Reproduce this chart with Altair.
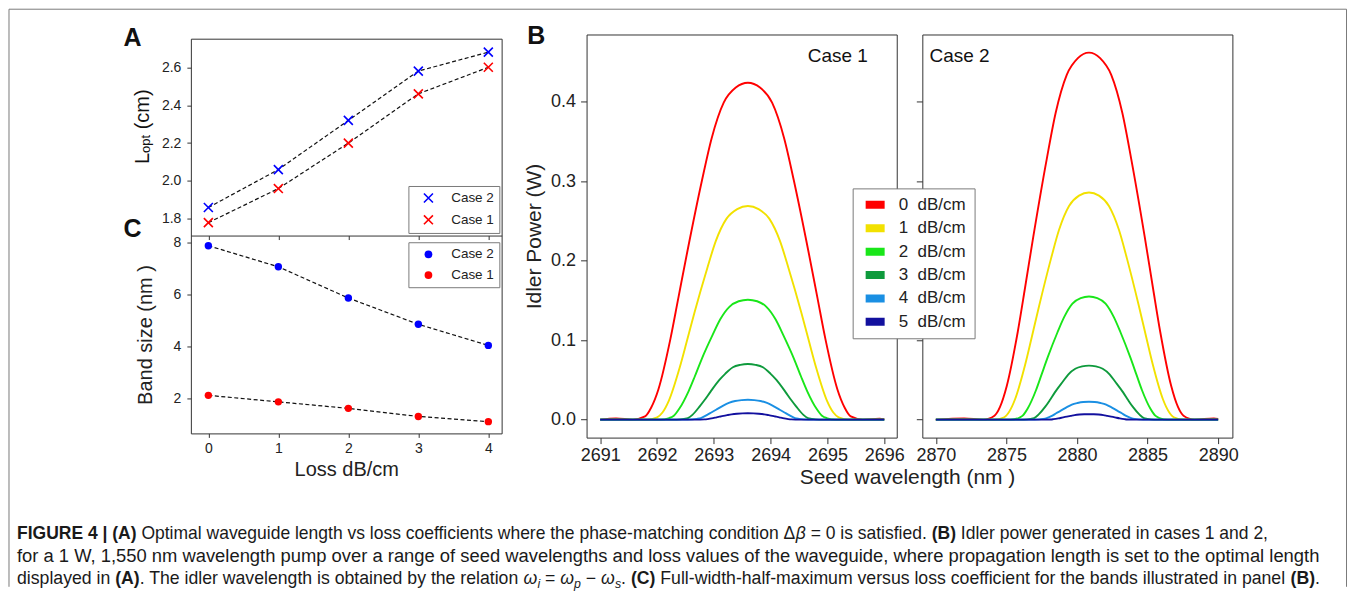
import altair as alt
import pandas as pd

FONT = "Liberation Sans"
INK = "#222222"
EDGE = "#333333"
BOX = "#7a7a7a"

# ---------------- Panel A / C data ----------------
loss_values = [0, 1, 2, 3, 4]
lopt_case2 = [1.86, 2.06, 2.32, 2.58, 2.68]
lopt_case1 = [1.78, 1.96, 2.20, 2.46, 2.60]
band_case2 = [7.88, 7.07, 5.87, 4.86, 4.05]
band_case1 = [2.13, 1.88, 1.63, 1.32, 1.12]
case_names = ["Case 2", "Case 1"]
case_colors = ["#0000ff", "#ff0000"]

# ---------------- Panel B data ----------------
loss_names = ["0\u00a0\u00a0dB/cm", "1\u00a0\u00a0dB/cm", "2\u00a0\u00a0dB/cm",
              "3\u00a0\u00a0dB/cm", "4\u00a0\u00a0dB/cm", "5\u00a0\u00a0dB/cm"]
loss_colors = ["#ff0000", "#f2e100", "#19e619", "#0e9a3c", "#1a8fe3", "#12109e"]

# Case 1 (seed wavelength nm, idler power W)
c1_l0_wl = [2691.0, 2691.28, 2691.576, 2691.789, 2691.896, 2692.024, 2692.237, 2692.375, 2692.535, 2692.791, 2692.961, 2693.174, 2693.387, 2693.6,
            2693.813, 2694.026, 2694.239, 2694.409, 2694.665, 2694.825, 2694.963, 2695.176, 2695.304, 2695.411, 2695.624, 2695.92, 2696.0]
c1_l0_p = [0, 0.0015, 0, 0.004, 0.015, 0.038, 0.102, 0.153, 0.212, 0.301, 0.354, 0.399, 0.418, 0.424,
           0.418, 0.399, 0.354, 0.301, 0.212, 0.153, 0.102, 0.038, 0.015, 0.004, 0, 0.0012, 0.0005]
c1_l1_wl = [2691.0, 2691.814, 2692.002, 2692.096, 2692.209, 2692.397, 2692.519, 2692.66, 2692.886, 2693.036, 2693.224, 2693.412, 2693.6,
            2693.788, 2693.976, 2694.164, 2694.314, 2694.54, 2694.681, 2694.803, 2694.991, 2695.104, 2695.198, 2695.386, 2696.0]
c1_l1_p = [0, 0, 0.003, 0.009, 0.024, 0.065, 0.097, 0.135, 0.191, 0.225, 0.253, 0.265, 0.269,
           0.265, 0.253, 0.225, 0.191, 0.135, 0.097, 0.065, 0.024, 0.009, 0.003, 0, 0]
c1_l2_wl = [2691.0, 2692.051, 2692.214, 2692.296, 2692.394, 2692.557, 2692.663, 2692.785, 2692.981, 2693.111, 2693.274, 2693.437, 2693.6,
            2693.763, 2693.926, 2694.089, 2694.219, 2694.415, 2694.537, 2694.643, 2694.806, 2694.904, 2694.986, 2695.149, 2696.0]
c1_l2_p = [0, 0, 0.002, 0.005, 0.014, 0.036, 0.054, 0.076, 0.107, 0.126, 0.142, 0.149, 0.151,
           0.149, 0.142, 0.126, 0.107, 0.076, 0.054, 0.036, 0.014, 0.005, 0.002, 0, 0]
c1_l3_wl = [2691.0, 2692.346, 2692.478, 2692.544, 2692.623, 2692.755, 2692.841, 2692.94, 2693.098, 2693.204, 2693.336, 2693.468, 2693.6,
            2693.732, 2693.864, 2693.996, 2694.102, 2694.26, 2694.359, 2694.445, 2694.577, 2694.656, 2694.722, 2694.854, 2696.0]
c1_l3_p = [0, 0, 0.001, 0.002, 0.006, 0.017, 0.025, 0.035, 0.050, 0.058, 0.066, 0.069, 0.070,
           0.069, 0.066, 0.058, 0.050, 0.035, 0.025, 0.017, 0.006, 0.002, 0.001, 0, 0]
c1_l4_wl = [2691.0, 2692.536, 2692.704, 2692.771, 2692.883, 2692.956, 2693.04, 2693.174, 2693.264, 2693.376, 2693.488, 2693.6,
            2693.712, 2693.824, 2693.936, 2694.026, 2694.16, 2694.244, 2694.317, 2694.429, 2694.496, 2694.664, 2696.0]
c1_l4_p = [0, 0, 0.001, 0.002, 0.006, 0.009, 0.0125, 0.018, 0.021, 0.0235, 0.0246, 0.025,
           0.0246, 0.0235, 0.021, 0.018, 0.0125, 0.009, 0.006, 0.002, 0.001, 0, 0]
c1_l5_wl = [2691.0, 2692.688, 2692.832, 2692.89, 2692.986, 2693.048, 2693.12, 2693.235, 2693.312, 2693.408, 2693.504, 2693.6,
            2693.696, 2693.792, 2693.888, 2693.965, 2694.08, 2694.152, 2694.214, 2694.31, 2694.368, 2694.512, 2696.0]
c1_l5_p = [0, 0, 0.0003, 0.0007, 0.0019, 0.0029, 0.004, 0.0057, 0.0067, 0.0075, 0.0079, 0.008,
           0.0079, 0.0075, 0.0067, 0.0057, 0.004, 0.0029, 0.0019, 0.0007, 0.0003, 0, 0]

# Case 2
c2_l0_wl = [2870.0, 2872.0, 2873.364, 2874.152, 2874.546, 2875.019, 2875.807, 2876.319, 2876.91, 2877.856, 2878.486, 2879.274, 2880.062, 2880.85,
            2881.638, 2882.426, 2883.214, 2883.844, 2884.79, 2885.381, 2885.893, 2886.681, 2887.154, 2887.548, 2888.336, 2889.7, 2890.0]
c2_l0_p = [0, 0.0015, 0, 0.005, 0.016, 0.042, 0.111, 0.166, 0.231, 0.328, 0.386, 0.434, 0.455, 0.462,
           0.455, 0.434, 0.386, 0.328, 0.231, 0.166, 0.111, 0.042, 0.016, 0.005, 0, 0.0015, 0.0008]
c2_l1_wl = [2870.0, 2874.133, 2874.84, 2875.194, 2875.618, 2876.325, 2876.785, 2877.315, 2878.163, 2878.729, 2879.436, 2880.143, 2880.85,
            2881.557, 2882.264, 2882.971, 2883.537, 2884.385, 2884.915, 2885.375, 2886.082, 2886.506, 2886.86, 2887.567, 2890.0]
c2_l1_p = [0, 0, 0.003, 0.010, 0.026, 0.069, 0.103, 0.143, 0.203, 0.239, 0.269, 0.282, 0.286,
           0.282, 0.269, 0.239, 0.203, 0.143, 0.103, 0.069, 0.026, 0.010, 0.003, 0, 0]
c2_l2_wl = [2870.0, 2875.273, 2875.86, 2876.154, 2876.506, 2877.093, 2877.475, 2877.915, 2878.619, 2879.089, 2879.676, 2880.263, 2880.85,
            2881.437, 2882.024, 2882.611, 2883.081, 2883.785, 2884.225, 2884.607, 2885.194, 2885.546, 2885.84, 2886.427, 2890.0]
c2_l2_p = [0, 0, 0.002, 0.005, 0.014, 0.037, 0.056, 0.078, 0.110, 0.129, 0.146, 0.153, 0.155,
           0.153, 0.146, 0.129, 0.110, 0.078, 0.056, 0.037, 0.014, 0.005, 0.002, 0, 0]
c2_l3_wl = [2870.0, 2876.233, 2876.719, 2876.962, 2877.254, 2877.74, 2878.055, 2878.42, 2879.003, 2879.392, 2879.878, 2880.364, 2880.85,
            2881.336, 2881.822, 2882.308, 2882.697, 2883.28, 2883.645, 2883.96, 2884.446, 2884.738, 2884.981, 2885.467, 2890.0]
c2_l3_p = [0, 0, 0.001, 0.002, 0.006, 0.016, 0.024, 0.034, 0.048, 0.057, 0.064, 0.067, 0.068,
           0.067, 0.064, 0.057, 0.048, 0.034, 0.024, 0.016, 0.006, 0.002, 0.001, 0, 0]
c2_l4_wl = [2870.0, 2877.002, 2877.61, 2877.853, 2878.258, 2878.521, 2878.825, 2879.311, 2879.635, 2880.04, 2880.445, 2880.85,
            2881.255, 2881.66, 2882.065, 2882.389, 2882.875, 2883.179, 2883.442, 2883.847, 2884.09, 2884.698, 2890.0]
c2_l4_p = [0, 0, 0.001, 0.002, 0.005, 0.008, 0.011, 0.016, 0.019, 0.021, 0.0222, 0.0225,
           0.0222, 0.021, 0.019, 0.016, 0.011, 0.008, 0.005, 0.002, 0.001, 0, 0]
c2_l5_wl = [2870.0, 2877.62, 2878.13, 2878.334, 2878.674, 2878.895, 2879.15, 2879.558, 2879.83, 2880.17, 2880.51, 2880.85,
            2881.19, 2881.53, 2881.87, 2882.142, 2882.55, 2882.805, 2883.026, 2883.366, 2883.57, 2884.08, 2890.0]
c2_l5_p = [0, 0, 0.0002, 0.0006, 0.0016, 0.0024, 0.0034, 0.0048, 0.0057, 0.0064, 0.0067, 0.0068,
           0.0067, 0.0064, 0.0057, 0.0048, 0.0034, 0.0024, 0.0016, 0.0006, 0.0002, 0, 0]

# ---------------- Caption text ----------------
caption_lines = [
    [("FIGURE 4 | ", "b"), ("(A)", "b"),
     (" Optimal waveguide length vs loss coefficients where the phase-matching condition \u0394", "n"),
     ("\u03b2", "i"), (" = 0 is satisfied. ", "n"), ("(B)", "b"),
     (" Idler power generated in cases 1 and 2,", "n")],
    [("for a 1 W, 1,550 nm wavelength pump over a range of seed wavelengths and loss values of the waveguide, "
      "where propagation length is set to the optimal length", "n")],
    [("displayed in ", "n"), ("(A)", "b"), (". The idler wavelength is obtained by the relation ", "n"),
     ("\u03c9", "i"), ("i", "si"), (" = ", "n"), ("\u03c9", "i"), ("p", "si"), (" \u2212 ", "n"),
     ("\u03c9", "i"), ("s", "si"), (". ", "n"), ("(C)", "b"),
     (" Full-width-half-maximum versus loss coefficient for the bands illustrated in panel ", "n"),
     ("(B)", "b"), (".", "n")],
]

# ---------------- text metrics (Arial / Liberation Sans advance widths) ----------------
_W = {}
for chars, w in [(" !,./:;I[]\\ft\u00a0", 278), ("ijl", 222), ("\"", 355),
                 ("#$0123456789?_abdeghnopqu", 556), ("%", 889), ("&ABEKPSVXY", 667),
                 ("'", 191), ("()-`r", 333), ("*", 389), ("+<=>~\u2212", 584), ("@", 1015),
                 ("CDHNRUw", 722), ("FTZ", 611), ("GOQ", 778), ("J", 500), ("L", 556),
                 ("Mm", 833), ("W", 944), ("^", 469), ("cksvxyz", 500), ("|", 260),
                 ("\u0394", 668), ("\u03b2", 575), ("\u03c9", 781)]:
    for ch in chars:
        _W[ch] = w
_WB = dict(_W)
_WB.update({"A": 722, "B": 722, "C": 722, "E": 667, "F": 611, "G": 778, "I": 278,
            "R": 722, "U": 722, "|": 280, "4": 556})


def em(text, bold=False):
    table = _WB if bold else _W
    return sum(table.get(ch, 556) for ch in text) / 1000.0


# layout anchors (pixels, relative to the A/C plot origin)
AC_W, A_H, AC_H = 311, 197, 395
B_W1, B_W2, B_H = 310.4, 310.3, 403.4
cap_x0 = -174.0
cap_widths = [1252.0, 1306.0, 1304.0]
cap_base = [501.0, 523.5, 546.0]

rows = []
for li, segs in enumerate(caption_lines):
    line_em = sum(em(t, s == "b") * (0.7 if s == "si" else 1.0) for t, s in segs)
    fs = cap_widths[li] / line_em
    x = cap_x0
    for txt, sty in segs:
        size = fs * (0.7 if sty == "si" else 1.0)
        lead = len(txt) - len(txt.lstrip(" "))
        body = txt.strip(" ")
        if body:
            rows.append({"t": body, "x": x + lead * 0.278 * size, "y": cap_base[li], "sty": sty, "fs": size})
        x += em(txt, sty == "b") * size
cap_df = pd.DataFrame(rows)


def cap_layer(sty, **kw):
    return alt.Chart(cap_df[cap_df.sty == sty]).mark_text(
        align="left", baseline="alphabetic", font=FONT, color="#1a1a1a", **kw
    ).encode(x=alt.X("x:Q", scale=None, axis=None), y=alt.Y("y:Q", scale=None, axis=None),
             size=alt.Size("fs:Q", scale=None, legend=None), text="t:N")


caption = alt.layer(
    cap_layer("n"),
    cap_layer("b", fontWeight="bold"),
    cap_layer("i", fontStyle="italic"),
    cap_layer("si", fontStyle="italic", dy=4),
)

one = pd.DataFrame({"k": [0]})
FR_L, FR_R, FR_T, FR_B = -182.0, 1156.5, -29.5, 548.5
frame = alt.layer(
    alt.Chart(one).mark_rule(color=BOX, strokeWidth=1).encode(
        x=alt.value(FR_L), x2=alt.value(FR_R), y=alt.value(FR_T)),
    alt.Chart(one).mark_rule(color=BOX, strokeWidth=1).encode(
        x=alt.value(FR_L), y=alt.value(FR_T), y2=alt.value(FR_B)),
    alt.Chart(one).mark_rule(color=BOX, strokeWidth=1).encode(
        x=alt.value(FR_R), y=alt.value(FR_T), y2=alt.value(FR_B)),
)


def label(text, x, y, size, **kw):
    return alt.Chart(one).mark_text(text=text, font=FONT, fontSize=size, color="#111", **kw).encode(
        x=alt.value(x), y=alt.value(y))


XPATH = "M-1,-1L1,1M-1,1L1,-1"

# ---------------- Panel A ----------------
dfA = pd.DataFrame({"loss": loss_values * 2, "L": lopt_case2 + lopt_case1,
                    "caseA": ["Case 2"] * 5 + ["Case 1"] * 5})
xA = alt.X("loss:Q", scale=alt.Scale(domain=[-0.25, 4.19], nice=False, zero=False),
           axis=alt.Axis(orient="bottom", offset=-(AC_H - A_H), values=loss_values, labels=False,
                         title=None, tickSize=4, domain=True, domainColor=EDGE, tickColor=EDGE))
yA = alt.Y("L:Q", scale=alt.Scale(domain=[1.712, 2.751], range=[A_H, 0], nice=False, zero=False),
           axis=alt.Axis(orient="left", values=[1.8, 2.0, 2.2, 2.4, 2.6], format=".1f", title=None,
                         tickSize=4, labelPadding=6, labelFontSize=14))
A_line = alt.Chart(dfA).mark_line(color="#111", strokeDash=[4, 2.5], strokeWidth=1.2).encode(
    x=xA, y=yA, detail="caseA:N")
A_pts = alt.Chart(dfA).mark_point(shape=XPATH, filled=False, size=81, strokeWidth=1.6, opacity=1).encode(
    x=xA, y=yA,
    color=alt.Color("caseA:N", scale=alt.Scale(domain=case_names, range=case_colors),
                    legend=alt.Legend(orient="none", legendX=217.7, legendY=147.4, title=None,
                                      padding=5.3, strokeColor=BOX, fillColor="white",
                                      symbolType=XPATH, symbolSize=81, symbolStrokeWidth=1.6,
                                      symbolOffset=8, labelOffset=16, rowPadding=5.8,
                                      labelFontSize=13.5, labelFont=FONT, labelColor=INK)))
A_layer = alt.layer(A_line, A_pts)

# ---------------- Panel C ----------------
dfC = pd.DataFrame({"loss": loss_values * 2, "band": band_case2 + band_case1,
                    "caseC": ["Case 2"] * 5 + ["Case 1"] * 5})
xC = alt.X("loss:Q", scale=alt.Scale(domain=[-0.25, 4.19], nice=False, zero=False),
           axis=alt.Axis(orient="bottom", values=loss_values, format="d", title="Loss dB/cm",
                         tickSize=4, labelPadding=4, labelFontSize=14, titleFontSize=20,
                         titleY=35.7, titleBaseline="middle"))
yC = alt.Y("band:Q", scale=alt.Scale(domain=[0.668, 8.27], range=[AC_H, A_H], nice=False, zero=False),
           axis=alt.Axis(orient="left", values=[2, 4, 6, 8], format="d", title="Band size (nm )",
                         tickSize=4, labelPadding=6, labelFontSize=14, titleFontSize=20,
                         titleX=-45, titleBaseline="middle"))
C_line = alt.Chart(dfC).mark_line(color="#111", strokeDash=[4, 2.5], strokeWidth=1.2).encode(
    x=xC, y=yC, detail="caseC:N")
C_pts = alt.Chart(dfC).mark_point(shape="circle", filled=True, size=55, opacity=1).encode(
    x=xC, y=yC,
    color=alt.Color("caseC:N", scale=alt.Scale(domain=case_names, range=case_colors),
                    legend=alt.Legend(orient="none", legendX=217.7, legendY=203.7, title=None,
                                      padding=5.3, strokeColor=BOX, fillColor="white",
                                      symbolType="circle", symbolSize=60,
                                      symbolOffset=8, labelOffset=16, rowPadding=5.8,
                                      labelFontSize=13.5, labelFont=FONT, labelColor=INK)))
C_layer = alt.layer(C_line, C_pts)

AC = alt.layer(
    frame,
    A_layer,
    C_layer,
    label("A", -58.3, -0.8, 25, fontWeight="bold", align="center", baseline="middle"),
    label("C", -58.3, 190.5, 25, fontWeight="bold", align="center", baseline="middle"),
    label("L", -48.3, 125.5, 20, angle=270, align="left", baseline="middle"),
    label("opt", -44.5, 114.4, 13, angle=270, align="left", baseline="middle"),
    label("(cm)", -48.3, 90.7, 20, angle=270, align="left", baseline="middle"),
    caption,
).resolve_scale(x="independent", y="independent", color="independent").resolve_legend(
    color="independent").properties(width=AC_W, height=AC_H)

# ---------------- Panel B ----------------


def curve_df(pairs):
    out = []
    for name, wl, pw in pairs:
        for w, p in zip(wl, pw):
            out.append({"wl": w, "P": p, "loss": name})
    return pd.DataFrame(out)


dfB1 = curve_df([(loss_names[0], c1_l0_wl, c1_l0_p), (loss_names[1], c1_l1_wl, c1_l1_p),
                 (loss_names[2], c1_l2_wl, c1_l2_p), (loss_names[3], c1_l3_wl, c1_l3_p),
                 (loss_names[4], c1_l4_wl, c1_l4_p), (loss_names[5], c1_l5_wl, c1_l5_p)])
dfB2 = curve_df([(loss_names[0], c2_l0_wl, c2_l0_p), (loss_names[1], c2_l1_wl, c2_l1_p),
                 (loss_names[2], c2_l2_wl, c2_l2_p), (loss_names[3], c2_l3_wl, c2_l3_p),
                 (loss_names[4], c2_l4_wl, c2_l4_p), (loss_names[5], c2_l5_wl, c2_l5_p)])

yB_scale = alt.Scale(domain=[-0.0226, 0.4848], nice=False, zero=False)
power_ticks = [0.0, 0.1, 0.2, 0.3, 0.4]

B1_lines = alt.Chart(dfB1).mark_line(interpolate="monotone", strokeWidth=1.9).encode(
    x=alt.X("wl:Q", scale=alt.Scale(domain=[2690.76, 2696.22], nice=False, zero=False),
            axis=alt.Axis(values=[2691, 2692, 2693, 2694, 2695, 2696], format="d",
                          title="Seed wavelength (nm )", titleX=320.7, titleY=40.3,
                          titleBaseline="middle", titleAlign="center", titleFontSize=21,
                          tickSize=6, labelPadding=3, labelFontSize=18, labelOverlap=False)),
    y=alt.Y("P:Q", scale=yB_scale,
            axis=alt.Axis(values=power_ticks, format=".1f", title="Idler Power (W)", titleX=-52,
                          titleBaseline="middle", titleFontSize=21, tickSize=6, labelPadding=5,
                          labelFontSize=18)),
    color=alt.Color("loss:N", scale=alt.Scale(domain=loss_names, range=loss_colors), legend=None),
)
B1 = alt.layer(
    B1_lines,
    label("Case 1", 251.4, 21.7, 19, align="center", baseline="middle"),
    label("B", -50.3, 1.7, 25, fontWeight="bold", align="center", baseline="middle"),
).properties(width=B_W1, height=B_H)

B2_lines = alt.Chart(dfB2).mark_line(interpolate="monotone", strokeWidth=1.9).encode(
    x=alt.X("wl:Q", scale=alt.Scale(domain=[2869.04, 2891.01], nice=False, zero=False),
            axis=alt.Axis(values=[2870, 2875, 2880, 2885, 2890], format="d", title=None,
                          tickSize=6, labelPadding=3, labelFontSize=18, labelOverlap=False)),
    y=alt.Y("P:Q", scale=yB_scale, axis=alt.Axis(values=power_ticks, labels=False, title=None, tickSize=6)),
    color=alt.Color("loss:N", scale=alt.Scale(domain=loss_names, range=loss_colors),
                    legend=alt.Legend(orient="none", legendX=-69.7, legendY=154, title=None,
                                      padding=8, strokeColor=BOX, fillColor="white",
                                      symbolType="stroke", symbolSize=361, symbolStrokeWidth=8,
                                      symbolOffset=1, labelOffset=10, rowPadding=5.4, clipHeight=17,
                                      labelFontSize=17, labelFont=FONT, labelColor=INK)),
)
B2 = alt.layer(
    B2_lines,
    label("Case 2", 37.3, 21.7, 19, align="center", baseline="middle"),
).properties(width=B_W2, height=B_H)

spacer = alt.Chart(one).mark_point(opacity=0).encode(
    x=alt.value(0), y=alt.value(0)).properties(width=34.3, height=20,
                                                view=alt.ViewBackground(stroke="transparent"))

chart = alt.hconcat(AC, spacer, B1, B2, spacing=25, bounds="flush", center=True).resolve_scale(
    x="independent", y="independent", color="independent").resolve_legend(color="independent").properties(
    padding=0).configure_view(stroke=EDGE, strokeWidth=1).configure_axis(
    labelFont=FONT, titleFont=FONT, labelColor=INK, titleColor=INK, titleFontWeight="normal",
    grid=False, domain=False, tickColor=EDGE, tickWidth=1)

chart.save("out.html", embed_options={"renderer": "svg", "actions": False})
